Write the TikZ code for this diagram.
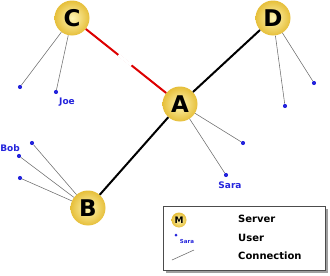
\documentclass[tikz,border=0pt]{standalone}
\usepackage{fontspec}
\setmainfont{DejaVu Sans}
\usetikzlibrary{calc, shadows}
\definecolor{nwSrvIn}{HTML}{FFF6B4}
\definecolor{nwSrvOut}{HTML}{E6BF3A}
\definecolor{nwUser}{HTML}{2424DC}
\definecolor{nwRed}{HTML}{DD0000}
\tikzset{
  nw/.style={x=1pt, y=-1pt, font=\bfseries},
  srv/.style={circle, minimum size=35pt, inner sep=0pt, shading=radial, inner color=nwSrvIn, outer color=nwSrvOut, font=\bfseries\fontsize{23}{23}\selectfont},
  usr/.style={circle, fill=nwUser, minimum size=4.2pt, inner sep=0pt},
  who/.style={text=nwUser, font=\bfseries\fontsize{9}{9}\selectfont, inner sep=0pt},
  link/.style={draw=gray!85!black, line width=0.55pt},
  trunk/.style={draw=black, line width=2pt},
  keybox/.style={draw=gray!60!black, fill=white, line width=0.6pt, minimum width=162pt, minimum height=64pt, inner sep=0pt,
    drop shadow={shadow xshift=3pt, shadow yshift=-3pt, fill=gray!75, opacity=1}},
  keytext/.style={anchor=west, inner sep=0pt, font=\bfseries\fontsize{10}{10}\selectfont},
}
\begin{document}
\begin{tikzpicture}[nw]
\useasboundingbox (0,0) rectangle (330,276);
\node[srv] (C) at (72,18) {C};
\node[srv] (D) at (273,18) {D};
\node[srv] (A) at (180,104) {A};
\node[srv] (B) at (88,208) {B};

\node[usr] (c1) at (20,87) {};
\node[usr] (c2) at (56,92) {};
\node[usr] (d1) at (314,83) {};
\node[usr] (d2) at (285,106) {};
\node[usr] (a1) at (243,143) {};
\node[usr] (a2) at (226,175) {};
\node[usr] (b1) at (32,143) {};
\node[usr] (b2) at (19,156) {};
\node[usr] (b3) at (20,178) {};
\node[who] (joe) at (67,102) {Joe};
\node[who] (sara) at (230,185) {Sara};
\node[who] (bob) at (10,148) {Bob};

\draw[link] (C) -- (c1);
\draw[link] (C) -- (c2);
\draw[link] (D) -- (d1);
\draw[link] (D) -- (d2);
\draw[link] (A) -- (a1);
\draw[link] (A) -- (a2);
\draw[link] (B) -- (b1);
\draw[link] (B) -- (b2);
\draw[link] (B) -- (b3);
\draw[trunk] (A) -- (D);
\draw[trunk] (A) -- (B);
\draw[trunk, draw=nwRed] (C) -- (A);
\draw[white, line width=3pt] ($(C)!0.43!(A)$) -- ($(C)!0.55!(A)$);

\node[keybox] (key) at (244,238) {};
\node[srv, minimum size=15pt, font=\bfseries\fontsize{9}{9}\selectfont] (km) at (179,220) {M};
\node[usr, minimum size=3pt] (ku) at (176,235) {};
\node[who, font=\bfseries\fontsize{5.5}{5.5}\selectfont] (kname) at (187,241) {Sara};
\coordinate (kl1) at (172,260);
\coordinate (kl2) at (194,250);
\draw[link] (kl1) -- (kl2);
\node[keytext] (kserver) at (238,219) {Server};
\node[keytext] (kuser) at (238,238) {User};
\node[keytext] (kconn) at (238,256) {Connection};
\end{tikzpicture}
\end{document}
